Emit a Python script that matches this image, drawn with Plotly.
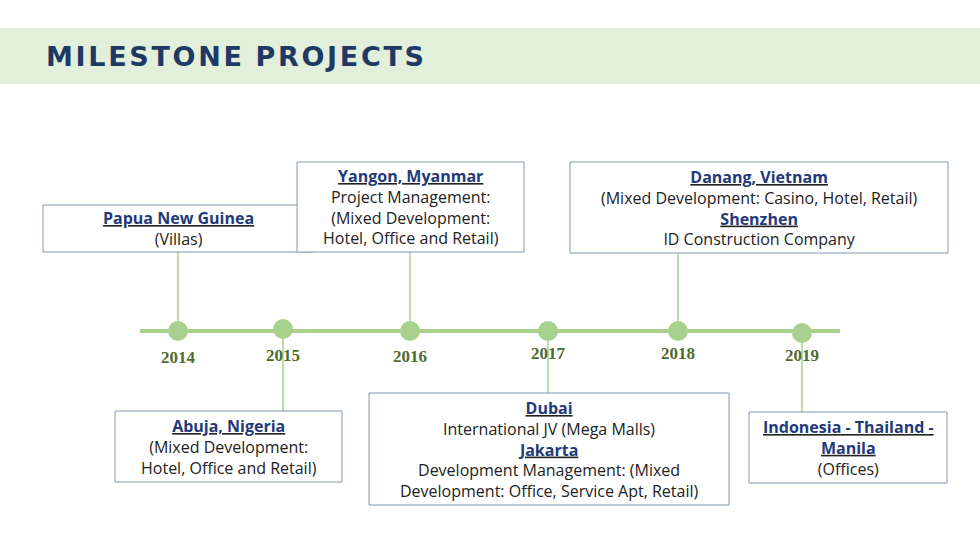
import plotly.graph_objects as go

years = ["2014", "2015", "2016", "2017", "2018", "2019"]
year_x = [178, 283, 410, 548, 678, 802]
dot_y = [331, 329, 331, 331, 331, 333]
label_y = [359, 357, 358, 355, 355, 357]

# boxes: (x0, x1, y0, y1, connector_x, text)
boxes = [
    (43, 313, 205, 252, 178, "<u><b>Papua New Guinea</b></u><br>(Villas)"),
    (297, 524, 162, 252, 410, "<u><b>Yangon, Myanmar</b></u><br>Project Management:<br>(Mixed Development:<br>Hotel, Office and Retail)"),
    (570, 948, 162, 253, 678, "<u><b>Danang, Vietnam</b></u><br>(Mixed Development: Casino, Hotel, Retail)<br><u><b>Shenzhen</b></u><br>ID Construction Company"),
    (115, 342, 411, 482, 283, "<u><b>Abuja, Nigeria</b></u><br>(Mixed Development:<br>Hotel, Office and Retail)"),
    (369, 729, 393, 505, 548, "<u><b>Dubai</b></u><br>International JV (Mega Malls)<br><u><b>Jakarta</b></u><br>Development Management: (Mixed<br>Development: Office, Service Apt, Retail)"),
    (749, 947, 412, 483, 802, "<u><b>Indonesia - Thailand -</b></u><br><u><b>Manila</b></u><br>(Offices)"),
]

navy = "#1F3A7A"
green = "#A9D18E"
fig = go.Figure()
shapes = [dict(type="rect", x0=0, x1=980, y0=28, y1=84, fillcolor="#E2EFDA", line_width=0, layer="below"),
          dict(type="line", x0=140, x1=840, y0=331, y1=331, line=dict(color=green, width=4), layer="below")]
ann = []
for x0, x1, y0, y1, cx, t in boxes:
    top = y0 < 300
    shapes.append(dict(type="line", x0=cx, x1=cx, y0=(y1 if top else 331), y1=(331 if top else y0),
                       line=dict(color=green, width=1.5), layer="below"))
    shapes.append(dict(type="rect", x0=x0, x1=x1, y0=y0, y1=y1, line=dict(color="#8497B0", width=1), fillcolor="white"))
    t = t.replace("<u><b>", f"<u><b><span style='color:{navy}'>").replace("</b></u>", "</span></b></u>")
    ann.append(dict(x=(x0 + x1) / 2, y=(y0 + y1) / 2, text=t, showarrow=False, align="center",
                    font=dict(family="Open Sans, Arial", size=16, color="#222"), yanchor="middle"))

fig.add_trace(go.Scatter(x=year_x, y=dot_y, mode="markers", marker=dict(size=20, color=green), hoverinfo="skip"))
fig.add_trace(go.Scatter(x=year_x, y=label_y, mode="text", text=[f"<b>{y}</b>" for y in years],
                         textfont=dict(family="Liberation Serif, Times New Roman", size=17, color="#4E6B2E"),
                         hoverinfo="skip"))

title = "MILESTONE PROJECTS"
spaced = "\u200a".join(title).replace("\u200a \u200a", "\u2002")
ann.append(dict(x=44, y=56, xanchor="left", yanchor="middle", showarrow=False, text=f"<b>{spaced}</b>",
                font=dict(family="DejaVu Sans", size=27, color="#1F3864")))

fig.update_layout(width=980, height=551, margin=dict(l=0, r=0, t=0, b=0), showlegend=False,
                  plot_bgcolor="white", paper_bgcolor="white", shapes=shapes, annotations=ann,
                  xaxis=dict(range=[0, 980], visible=False, fixedrange=True),
                  yaxis=dict(range=[551, 0], visible=False, fixedrange=True))
fig.write_html("out.html", config={"displayModeBar": False},
               post_script="document.body.style.margin='0';document.body.style.overflow='hidden';")
